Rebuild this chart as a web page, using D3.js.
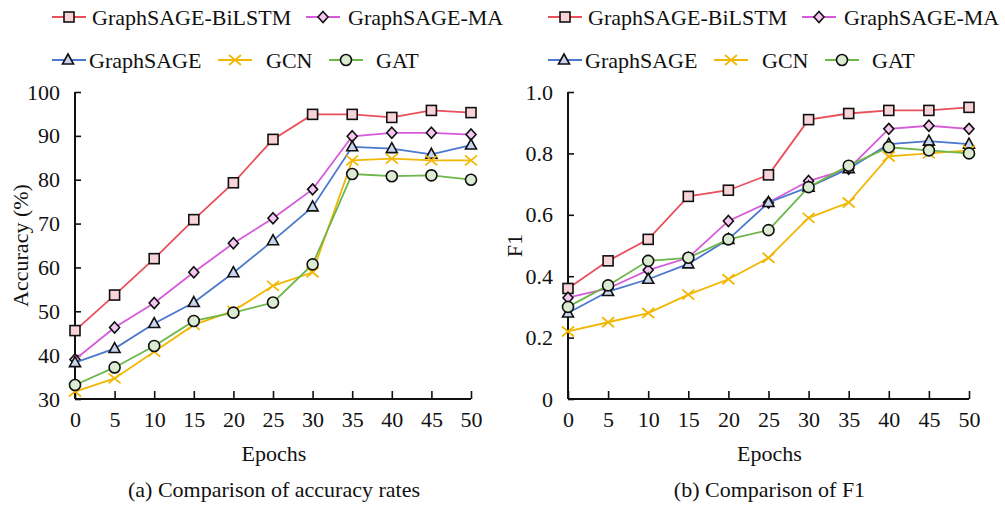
<!DOCTYPE html>
<html><head><meta charset="utf-8">
<script src="https://cdn.jsdelivr.net/npm/d3@7"></script>
<style>body{margin:0;background:#fff}svg{display:block}
svg text{font-family:"Liberation Serif","Times New Roman",Times,"DejaVu Serif",serif !important;fill:#111}</style>
</head><body><svg id="c" width="1005" height="506"></svg>
<script>
const epochs = [0,5,10,15,20,25,30,35,40,45,50];
const seriesNames = ["GraphSAGE-BiLSTM","GraphSAGE-MA","GraphSAGE","GCN","GAT"];
const accBiLSTM = [45.6,53.7,62.0,70.9,79.3,89.2,94.9,94.9,94.2,95.8,95.3];
const accMA     = [39.0,46.3,51.9,58.9,65.5,71.2,77.8,89.9,90.7,90.7,90.3];
const accSAGE   = [38.3,41.5,47.2,52.0,58.8,66.1,73.8,87.5,87.1,85.8,87.9];
const accGCN    = [31.7,34.7,40.8,46.9,50.1,55.8,58.9,84.4,84.8,84.4,84.4];
const accGAT    = [33.2,37.2,42.1,47.8,49.7,52.0,60.7,81.3,80.8,81.0,80.0];
const f1BiLSTM = [0.36,0.45,0.52,0.66,0.68,0.73,0.91,0.93,0.94,0.94,0.95];
const f1MA     = [0.33,0.36,0.42,0.46,0.58,0.64,0.71,0.75,0.88,0.89,0.88];
const f1SAGE   = [0.28,0.35,0.39,0.44,0.52,0.64,0.69,0.75,0.83,0.84,0.83];
const f1GCN    = [0.22,0.25,0.28,0.34,0.39,0.46,0.59,0.64,0.79,0.80,0.81];
const f1GAT    = [0.30,0.37,0.45,0.46,0.52,0.55,0.69,0.76,0.82,0.81,0.80];
const accTicks = [30,40,50,60,70,80,90,100];
const f1Ticks = [0,0.2,0.4,0.6,0.8,1.0];
const f1TickLabels = ["0","0.2","0.4","0.6","0.8","1.0"];

const FONT = "'Liberation Serif','Times New Roman',Times,'DejaVu Serif',serif";
const styles = [
  {color:"#e8505b", fill:"#f8d3d8", shape:"square"},
  {color:"#d65bd8", fill:"#f6c8f2", shape:"diamond"},
  {color:"#4a78cc", fill:"#c9d6ee", shape:"triangle"},
  {color:"#f2b705", fill:"none", shape:"x"},
  {color:"#6cb64a", fill:"#dcecd2", shape:"circle"}
];

const svg = d3.select("#c").attr("font-family", FONT);

function marker(g, shape, x, y, st){
  if(shape==="square"){
    g.append("rect").attr("x",x-5).attr("y",y-5).attr("width",10).attr("height",10)
     .attr("fill",st.fill).attr("stroke","#111").attr("stroke-width",1.6);
  } else if(shape==="diamond"){
    g.append("path").attr("d",`M${x},${y-5.5}L${x+5},${y}L${x},${y+5.5}L${x-5},${y}Z`)
     .attr("fill",st.fill).attr("stroke","#111").attr("stroke-width",1.6);
  } else if(shape==="triangle"){
    g.append("path").attr("d",`M${x},${y-6}L${x+5.5},${y+4}L${x-5.5},${y+4}Z`)
     .attr("fill",st.fill).attr("stroke","#111").attr("stroke-width",1.6);
  } else if(shape==="circle"){
    g.append("circle").attr("cx",x).attr("cy",y).attr("r",5.5)
     .attr("fill",st.fill).attr("stroke","#111").attr("stroke-width",1.6);
  } else {
    g.append("path").attr("d",`M${x-6},${y-5}L${x+6},${y+5}M${x-6},${y+5}L${x+6},${y-5}`)
     .attr("stroke",st.color).attr("stroke-width",1.8).attr("fill","none");
  }
}

function panel(opt){
  const x = d3.scaleLinear().domain([0,50]).range([opt.x0, opt.x1]);
  const y = d3.scaleLinear().domain(opt.ydom).range([opt.yb, opt.yt]);
  const g = svg.append("g");
  const ax = g.append("g").attr("transform",`translate(0,${opt.yb})`)
    .call(d3.axisBottom(x).tickValues(epochs).tickSize(-8).tickPadding(12).tickFormat(d3.format("d")));
  const ay = g.append("g").attr("transform",`translate(${opt.x0},0)`)
    .call(d3.axisLeft(y).tickValues(opt.ticks).tickSize(-6).tickPadding(15).tickFormat((d,i)=>opt.tickLabels[i]));
  [ax,ay].forEach(a=>{
    a.attr("font-family", FONT).attr("font-size", 22);
    a.select(".domain").attr("stroke","#111").attr("stroke-width",2);
    a.selectAll(".tick line").attr("stroke","#111").attr("stroke-width",1.6);
    a.selectAll("text").style("font-family",FONT).style("font-size","22px").attr("fill","#111");
  });
  ay.select(".domain").attr("d",`M0,${opt.yb}V${opt.yt}`);
  ax.select(".domain").attr("d",`M${opt.x0},0H${opt.x1}`);
  opt.data.forEach((vals,i)=>{
    const st = styles[i];
    const line = d3.line().x((d,j)=>x(epochs[j])).y(d=>y(d));
    g.append("path").datum(vals).attr("d",line).attr("fill","none")
      .attr("stroke",st.color).attr("stroke-width",1.8);
    const mg = g.append("g");
    vals.forEach((v,j)=>marker(mg, st.shape, x(epochs[j]), y(v), st));
  });
  g.append("text").attr("x",(opt.x0+opt.x1)/2+1).attr("y",461).attr("text-anchor","middle")
    .style("font-family",FONT).style("font-size","22px").text("Epochs");
  g.append("text").attr("x",(opt.x0+opt.x1)/2+1).attr("y",497).attr("text-anchor","middle")
    .style("font-family",FONT).style("font-size","22px").text(opt.caption);
  g.append("text").attr("transform",`translate(${opt.ylabX},${(opt.yt+opt.yb)/2}) rotate(-90)`)
    .attr("text-anchor","middle").style("font-family",FONT).style("font-size","22px").text(opt.ylabel);
  const lg = g.append("g").attr("transform",`translate(${opt.legX},0)`);
  const items = [
    {i:0, lx:0, ty:17, tx:40},
    {i:1, lx:254, ty:17, tx:296},
    {i:2, lx:0, ty:60, tx:37},
    {i:3, lx:166, ty:60, tx:214},
    {i:4, lx:277, ty:60, tx:324}
  ];
  items.forEach(it=>{
    const st = styles[it.i];
    lg.append("line").attr("x1",it.lx).attr("x2",it.lx+34).attr("y1",it.ty).attr("y2",it.ty)
      .attr("stroke",st.color).attr("stroke-width",1.8);
    marker(lg, st.shape, it.lx+(it.i===2?16:17), it.ty, st);
    lg.append("text").attr("x",it.tx).attr("y",it.ty+8).style("font-family",FONT)
      .style("font-size","22px").text(seriesNames[it.i]);
  });
}

panel({x0:75, x1:471, yt:92, yb:399, ydom:[30,100], ticks:accTicks, tickLabels:accTicks.map(String),
  data:[accBiLSTM,accMA,accSAGE,accGCN,accGAT], ylabel:"Accuracy (%)", ylabX:28,
  caption:"(a) Comparison of accuracy rates", legX:52});
panel({x0:568, x1:969, yt:92, yb:399, ydom:[0,1], ticks:f1Ticks, tickLabels:f1TickLabels,
  data:[f1BiLSTM,f1MA,f1SAGE,f1GCN,f1GAT], ylabel:"F1", ylabX:522,
  caption:"(b) Comparison of F1", legX:548});
</script></body></html>
